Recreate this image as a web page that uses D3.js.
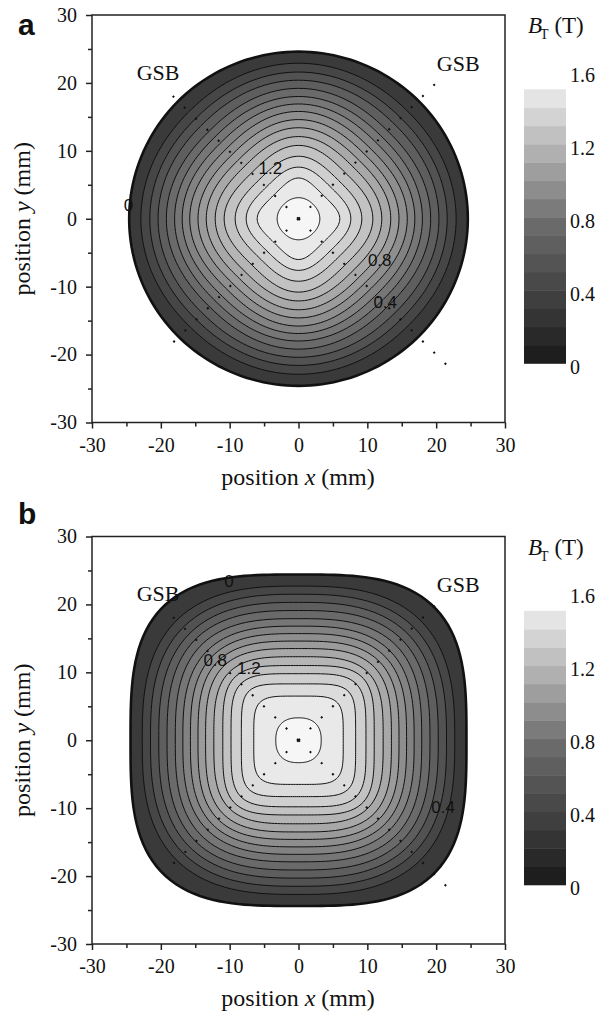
<!DOCTYPE html>
<html>
<head>
<meta charset="utf-8">
<script src="https://cdn.jsdelivr.net/npm/d3@7"></script>
<style>
  body { margin: 0; background: #fff; }
  svg text.serif { font-family: "Liberation Serif", "Times New Roman", serif; }
  svg text.sans { font-family: "Liberation Sans", Arial, sans-serif; }
</style>
</head>
<body>
<div id="chart"></div>
<script>
// contour levels (T), outer boundary = 0
var levels = [0, 0.1, 0.2, 0.3, 0.4, 0.5, 0.6, 0.7, 0.8, 0.9, 1.0, 1.1, 1.2, 1.3, 1.4, 1.5];

// panel a (cylinder): contour radius along x/y axes and along the GSB diagonal, mm
var aAxis = [24.6, 22.9, 21.6, 20.4, 19.2, 18.0, 16.9, 15.8, 14.6, 13.4, 12.1, 10.8, 9.2, 7.6, 6.0, 3.1];
var aDiag = [24.6, 22.4, 21.0, 19.7, 18.3, 17.1, 15.9, 14.7, 13.5, 12.3, 11.0, 9.6, 8.1, 6.6, 5.0, 3.0];

// panel b (square-ish bulk)
var bAxis = [24.4, 22.7, 21.5, 20.3, 19.1, 17.9, 16.8, 15.7, 14.6, 13.5, 12.3, 11.0, 9.8, 8.3, 6.5, 3.3];
var bDiag = [27.8, 25.0, 23.6, 22.3, 21.1, 19.9, 18.7, 17.6, 16.5, 15.4, 14.2, 13.1, 11.8, 10.2, 7.9, 3.5];

var axisTicks = [-30, -20, -10, 0, 10, 20, 30];
var minorTicks = [-25, -15, -5, 5, 15, 25];

var barLevels = [0, 0.1, 0.2, 0.3, 0.4, 0.5, 0.6, 0.7, 0.8, 0.9, 1.0, 1.1, 1.2, 1.3, 1.4];
var barTicks = [0, 0.4, 0.8, 1.2, 1.6];

// contour labels, mm
var aLabels = [
  {t: "0", x: -24.7, y: 2.0},
  {t: "1.2", x: -4.1, y: 7.5},
  {t: "0.8", x: 11.8, y: -6.0},
  {t: "0.4", x: 12.6, y: -12.3}
];
var bLabels = [
  {t: "0", x: -10.1, y: 23.4},
  {t: "0.8", x: -12.1, y: 11.9},
  {t: "1.2", x: -7.2, y: 10.6},
  {t: "0.4", x: 21.0, y: -9.8}
];

// grain sector boundaries, end points of the dotted lines from centre
var aGsb = [[-19.1, 18.9], [21.2, 21.2], [-19.0, -19.0], [22.5, -22.5]];
var bGsb = [[-19.1, 19.0], [21.2, 21.2], [-19.5, -19.5], [22.5, -22.5]];
var gsbText = [[-20.4, 21.6], [23.2, 22.9]];

var svg = d3.select("#chart").append("svg")
  .attr("width", 600)
  .attr("height", 1011);

var fillColor = d3.scaleLinear()
  .domain([0, 0.7, 1.5])
  .range(["#3a3a3a", "#8e8e8e", "#f6f6f6"]);

var barColor = d3.scaleLinear()
  .domain([0, 0.7, 1.4])
  .range(["#1e1e1e", "#6a6a6a", "#e4e4e4"]);

// closed contour through axis radius a and diagonal radius d
function ringPoints(a, d) {
  var big = Math.max(a, d), small = Math.min(a, d);
  var p = 1 / (0.5 - Math.log2(big / small));
  // square when d > a (corners on the diagonals), diamond when a > d (tips on the axes)
  var turn = d > a ? 0 : Math.PI / 4;
  return d3.range(0, 360, 2).map(function(deg) {
    var t = deg * Math.PI / 180;
    var c = Math.cos(t - turn), s = Math.sin(t - turn);
    var r = small / Math.pow(Math.pow(Math.abs(c), p) + Math.pow(Math.abs(s), p), 1 / p);
    return [r * Math.cos(t), r * Math.sin(t)];
  });
}

function drawPanel(top, axisR, diagR, labels, gsb, name, nameY) {
  var h = 407.5;
  var x = d3.scaleLinear().domain([-30, 30]).range([92, 505]);
  var y = d3.scaleLinear().domain([-30, 30]).range([top + h, top]);

  var g = svg.append("g");

  var line = d3.line()
    .x(function(d) { return x(d[0]); })
    .y(function(d) { return y(d[1]); })
    .curve(d3.curveLinearClosed);

  // filled contour bands, outside in
  g.selectAll("path.band")
    .data(levels)
    .enter().append("path")
      .attr("class", "band")
      .attr("d", function(d, i) { return line(ringPoints(axisR[i], diagR[i])); })
      .attr("fill", function(d) { return fillColor(d); })
      .attr("stroke", "#111")
      .attr("stroke-width", function(d, i) { return i == 0 ? 2.6 : 1; });

  // GSB dotted lines
  g.selectAll("line.gsb")
    .data(gsb)
    .enter().append("line")
      .attr("x1", x(0)).attr("y1", y(0))
      .attr("x2", function(d) { return x(d[0]); })
      .attr("y2", function(d) { return y(d[1]); })
      .attr("stroke", "#111")
      .attr("stroke-width", 2)
      .attr("stroke-dasharray", "2 13.8");

  g.selectAll("text.gsb")
    .data(gsbText)
    .enter().append("text")
      .attr("class", "serif")
      .attr("x", function(d) { return x(d[0]); })
      .attr("y", function(d) { return y(d[1]); })
      .attr("dy", "0.35em")
      .attr("text-anchor", "middle")
      .attr("font-size", 22)
      .attr("fill", "#111")
      .text("GSB");

  g.selectAll("text.clab")
    .data(labels)
    .enter().append("text")
      .attr("class", "sans")
      .attr("x", function(d) { return x(d.x); })
      .attr("y", function(d) { return y(d.y); })
      .attr("dy", "0.36em")
      .attr("text-anchor", "middle")
      .attr("font-size", 17)
      .attr("fill", "#111")
      .text(function(d) { return d.t; });

  // frame
  g.append("rect")
    .attr("x", 92).attr("y", top)
    .attr("width", 413).attr("height", h)
    .attr("fill", "none")
    .attr("stroke", "#222")
    .attr("stroke-width", 1.5);

  // axes
  var fmt = function(d) { return String(d); };
  var xa = g.append("g").attr("transform", "translate(0," + (top + h) + ")")
    .call(d3.axisBottom(x).tickValues(axisTicks).tickSize(6).tickPadding(9).tickFormat(fmt));
  var xm = g.append("g").attr("transform", "translate(0," + (top + h) + ")")
    .call(d3.axisBottom(x).tickValues(minorTicks).tickSize(4).tickFormat(""));
  var ya = g.append("g").attr("transform", "translate(92,0)")
    .call(d3.axisLeft(y).tickValues(axisTicks).tickSize(6).tickPadding(9).tickFormat(fmt));
  var ym = g.append("g").attr("transform", "translate(92,0)")
    .call(d3.axisLeft(y).tickValues(minorTicks).tickSize(4).tickFormat(""));
  [xa, xm, ya, ym].forEach(function(a) {
    a.select(".domain").remove();
    a.selectAll("line").attr("stroke", "#222").attr("stroke-width", 1.5);
    a.selectAll("text")
      .attr("class", "serif")
      .attr("font-size", 20)
      .attr("fill", "#111");
  });

  // axis titles
  var xt = g.append("text")
    .attr("class", "serif")
    .attr("x", 298)
    .attr("y", top + h + 62)
    .attr("text-anchor", "middle")
    .attr("font-size", 24)
    .attr("fill", "#111");
  xt.append("tspan").text("position  ");
  xt.append("tspan").attr("font-style", "italic").text("x");
  xt.append("tspan").text(" (mm)");

  var yt = g.append("text")
    .attr("class", "serif")
    .attr("transform", "translate(30," + y(0) + ") rotate(-90)")
    .attr("text-anchor", "middle")
    .attr("font-size", 24)
    .attr("fill", "#111");
  yt.append("tspan").text("position  ");
  yt.append("tspan").attr("font-style", "italic").text("y");
  yt.append("tspan").text(" (mm)");

  // panel letter
  g.append("text")
    .attr("class", "sans")
    .attr("x", 18)
    .attr("y", nameY)
    .attr("font-size", 30)
    .attr("font-weight", "bold")
    .attr("fill", "#111")
    .text(name);

  // colour scale
  var cb = d3.scaleLinear().domain([0, 1.5]).range([top + 348.3, top + 74.3]);
  g.selectAll("rect.cb")
    .data(barLevels)
    .enter().append("rect")
      .attr("x", 524)
      .attr("width", 42)
      .attr("y", function(d) { return cb(d + 0.1); })
      .attr("height", function(d) { return cb(d) - cb(d + 0.1) + 0.5; })
      .attr("fill", function(d) { return barColor(d); });

  var cbl = d3.scaleLinear().domain([0, 1.6]).range([top + 352, top + 60]);
  var ca = g.append("g").attr("transform", "translate(566,0)")
    .call(d3.axisRight(cbl).tickValues(barTicks).tickSize(0).tickPadding(4)
      .tickFormat(function(d) { return d == 0 ? "0" : d.toFixed(1); }));
  ca.select(".domain").remove();
  ca.selectAll("text").attr("class", "serif").attr("font-size", 20).attr("fill", "#111");

  var bt = g.append("text")
    .attr("class", "serif")
    .attr("x", 528)
    .attr("y", top + 18)
    .attr("font-size", 23)
    .attr("fill", "#111");
  bt.append("tspan").attr("font-style", "italic").text("B");
  bt.append("tspan").attr("font-size", 14).attr("dx", -2).attr("dy", 6).text("T");
  bt.append("tspan").attr("dy", -6).text(" (T)");
}

drawPanel(15, aAxis, aDiag, aLabels, aGsb, "a", 35);
drawPanel(536.5, bAxis, bDiag, bLabels, bGsb, "b", 524);
</script>
</body>
</html>
